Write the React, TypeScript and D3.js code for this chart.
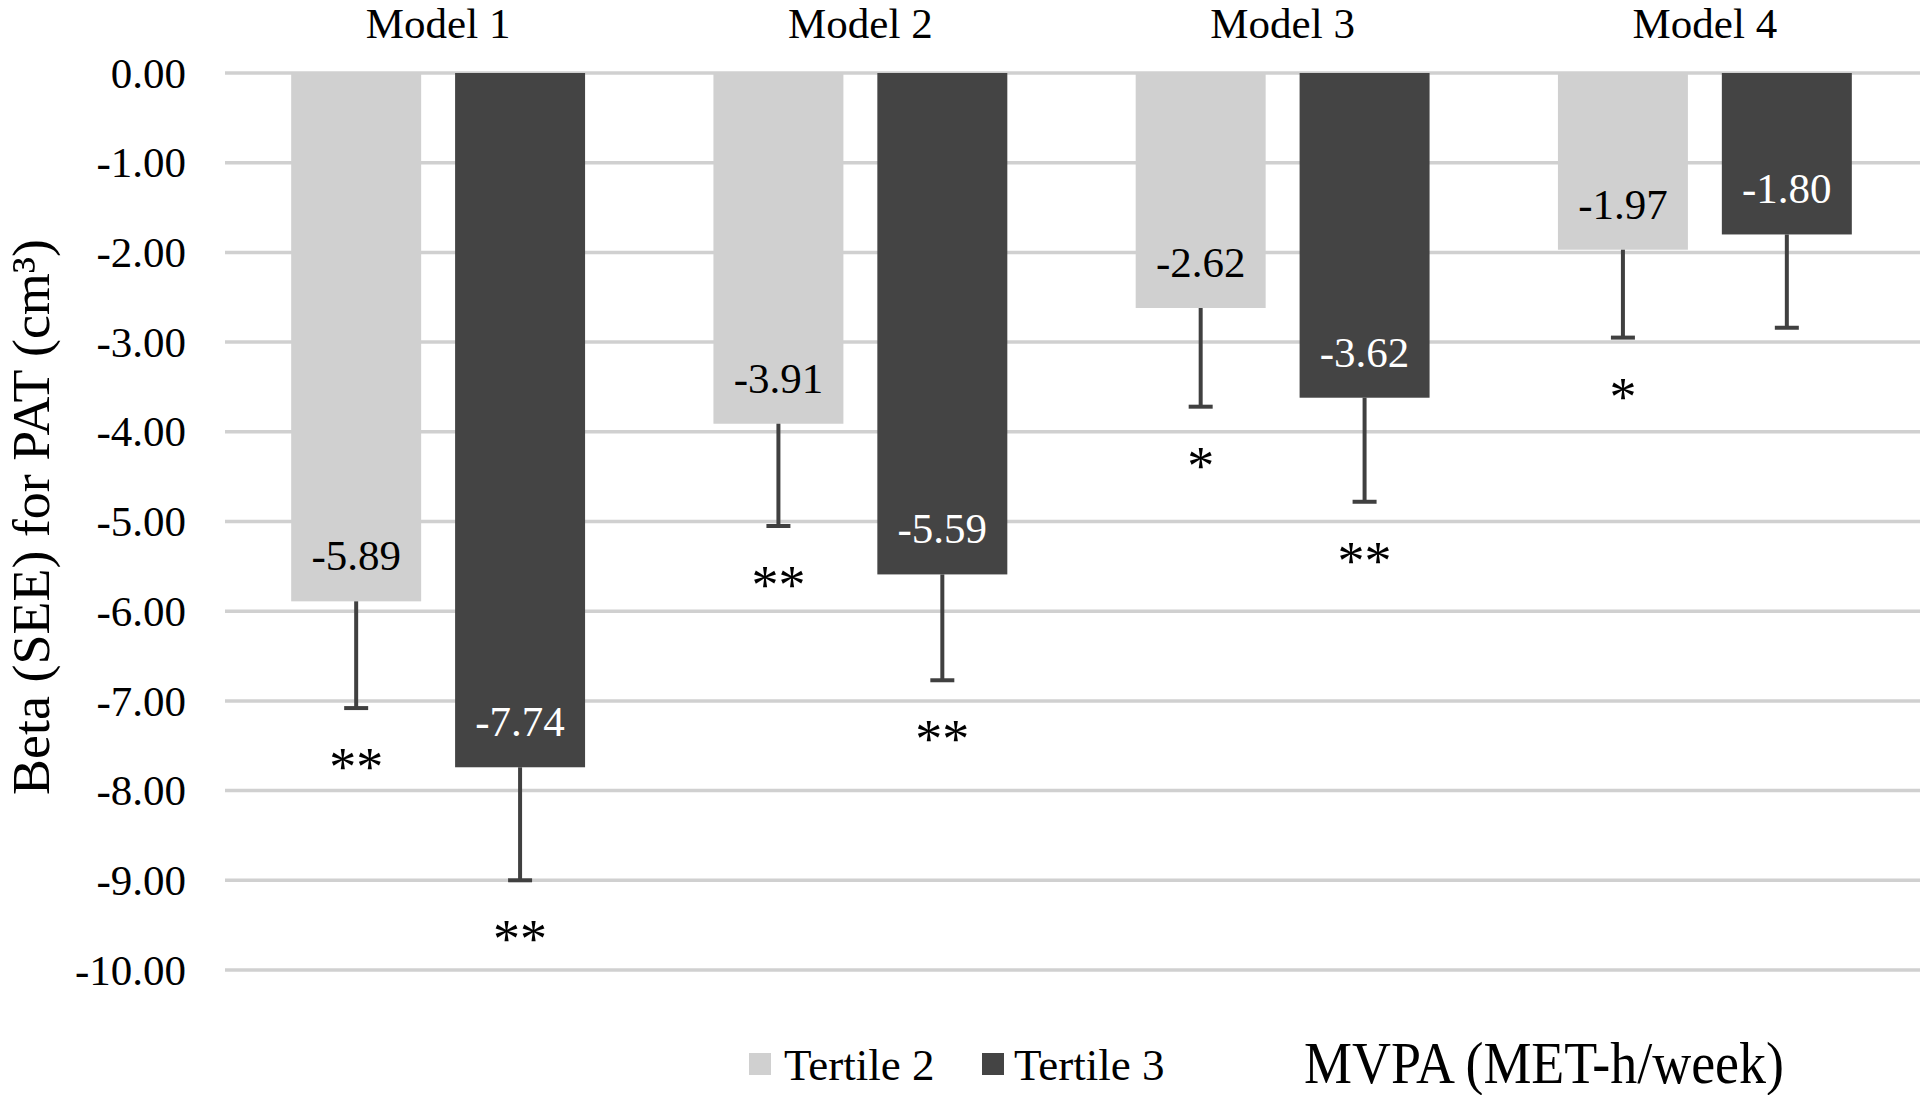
import * as d3 from "d3";
import React from "react";

const models = ["Model 1", "Model 2", "Model 3", "Model 4"];
const seriesNames = ["Tertile 2", "Tertile 3"];
const tertile2 = [-5.89, -3.91, -2.62, -1.97];
const tertile3 = [-7.74, -5.59, -3.62, -1.8];
const tertile2SE = [1.19, 1.14, 1.1, 0.98];
const tertile3SE = [1.26, 1.18, 1.16, 1.04];
const tertile2Sig = ["**", "**", "*", "*"];
const tertile3Sig = ["**", "**", "**", ""];
const yTicks = [0, -1, -2, -3, -4, -5, -6, -7, -8, -9, -10];
const yTitle = "Beta (SEE) for PAT (cm³)";
const xTitle = "MVPA (MET-h/week)";

const W = 1920;
const H = 1095;
const FONT = "'Liberation Serif', 'Times New Roman', serif";
const colors = ["#d0d0d0", "#444444"];
const labelColors = ["#000000", "#ffffff"];

export default function App() {
  const plotLeft = 227;
  const plotRight = 1916;

  const x0 = d3
    .scaleBand<string>()
    .domain(models)
    .range([plotLeft, plotRight])
    .paddingInner(0.304)
    .paddingOuter(0.152);

  const x1 = d3
    .scaleBand<string>()
    .domain(seriesNames)
    .range([0, x0.bandwidth()])
    .paddingInner(0.207);

  const y = d3.scaleLinear().domain([0, -10]).range([73, 970]);

  const rows = models.flatMap((m, i) => [
    { model: m, s: 0, value: tertile2[i], se: tertile2SE[i], sig: tertile2Sig[i] },
    { model: m, s: 1, value: tertile3[i], se: tertile3SE[i], sig: tertile3Sig[i] },
  ]);

  const cx = (r: { model: string; s: number }) =>
    x0(r.model)! + x1(seriesNames[r.s])! + x1.bandwidth() / 2;

  return (
    <svg
      width={W}
      height={H}
      viewBox={`0 0 ${W} ${H}`}
      style={{ position: "absolute", left: 0, top: 0, background: "#fff" }}
      fontFamily={FONT}
    >
      <rect x={0} y={0} width={W} height={H} fill="#ffffff" />

      {/* gridlines + tick labels */}
      {yTicks.map((t) => (
        <g key={t}>
          <line
            x1={plotLeft - 2}
            x2={W}
            y1={y(t)}
            y2={y(t)}
            stroke="#d0d0d0"
            strokeWidth={3.5}
          />
          <text
            x={186}
            y={y(t)}
            dy="0.34em"
            textAnchor="end"
            fontSize={43}
            fill="#000"
          >
            {t.toFixed(2)}
          </text>
        </g>
      ))}

      {/* model titles */}
      {models.map((m) => (
        <text
          key={m}
          x={x0(m)! + x0.bandwidth() / 2}
          y={38}
          textAnchor="middle"
          fontSize={43}
          fill="#000"
        >
          {m}
        </text>
      ))}

      {/* bars */}
      {rows.map((r, i) => (
        <rect
          key={"b" + i}
          x={x0(r.model)! + x1(seriesNames[r.s])!}
          y={y(0)}
          width={x1.bandwidth()}
          height={y(r.value) - y(0)}
          fill={colors[r.s]}
        />
      ))}

      {/* error bars */}
      {rows.map((r, i) => {
        const yEnd = y(r.value - r.se);
        return (
          <g key={"e" + i} stroke="#404040" strokeWidth={4}>
            <line x1={cx(r)} x2={cx(r)} y1={y(r.value)} y2={yEnd} />
            <line x1={cx(r) - 12} x2={cx(r) + 12} y1={yEnd} y2={yEnd} />
          </g>
        );
      })}

      {/* value labels */}
      {rows.map((r, i) => (
        <text
          key={"v" + i}
          x={cx(r)}
          y={y(r.value) - 31}
          textAnchor="middle"
          fontSize={43}
          fill={labelColors[r.s]}
        >
          {r.value.toFixed(2)}
        </text>
      ))}

      {/* significance marks */}
      {rows.map((r, i) =>
        r.sig ? (
          <text
            key={"s" + i}
            x={cx(r)}
            y={y(r.value - r.se) + 77}
            textAnchor="middle"
            fontSize={54}
            fill="#000"
          >
            {r.sig}
          </text>
        ) : null
      )}

      {/* y axis title */}
      <text
        transform={`translate(49,517) rotate(-90)`}
        textAnchor="middle"
        fontSize={53}
        textLength={556}
        lengthAdjust="spacingAndGlyphs"
        fill="#000"
      >
        {yTitle}
      </text>

      {/* legend */}
      <rect x={749} y={1053} width={22} height={22} fill={colors[0]} />
      <text x={784} y={1080} fontSize={45} fill="#000">
        {seriesNames[0]}
      </text>
      <rect x={982} y={1053} width={22} height={22} fill={colors[1]} />
      <text x={1014} y={1080} fontSize={45} fill="#000">
        {seriesNames[1]}
      </text>

      <text
        x={1304}
        y={1083}
        fontSize={60}
        textLength={480}
        lengthAdjust="spacingAndGlyphs"
        fill="#000"
      >
        {xTitle}
      </text>
    </svg>
  );
}
